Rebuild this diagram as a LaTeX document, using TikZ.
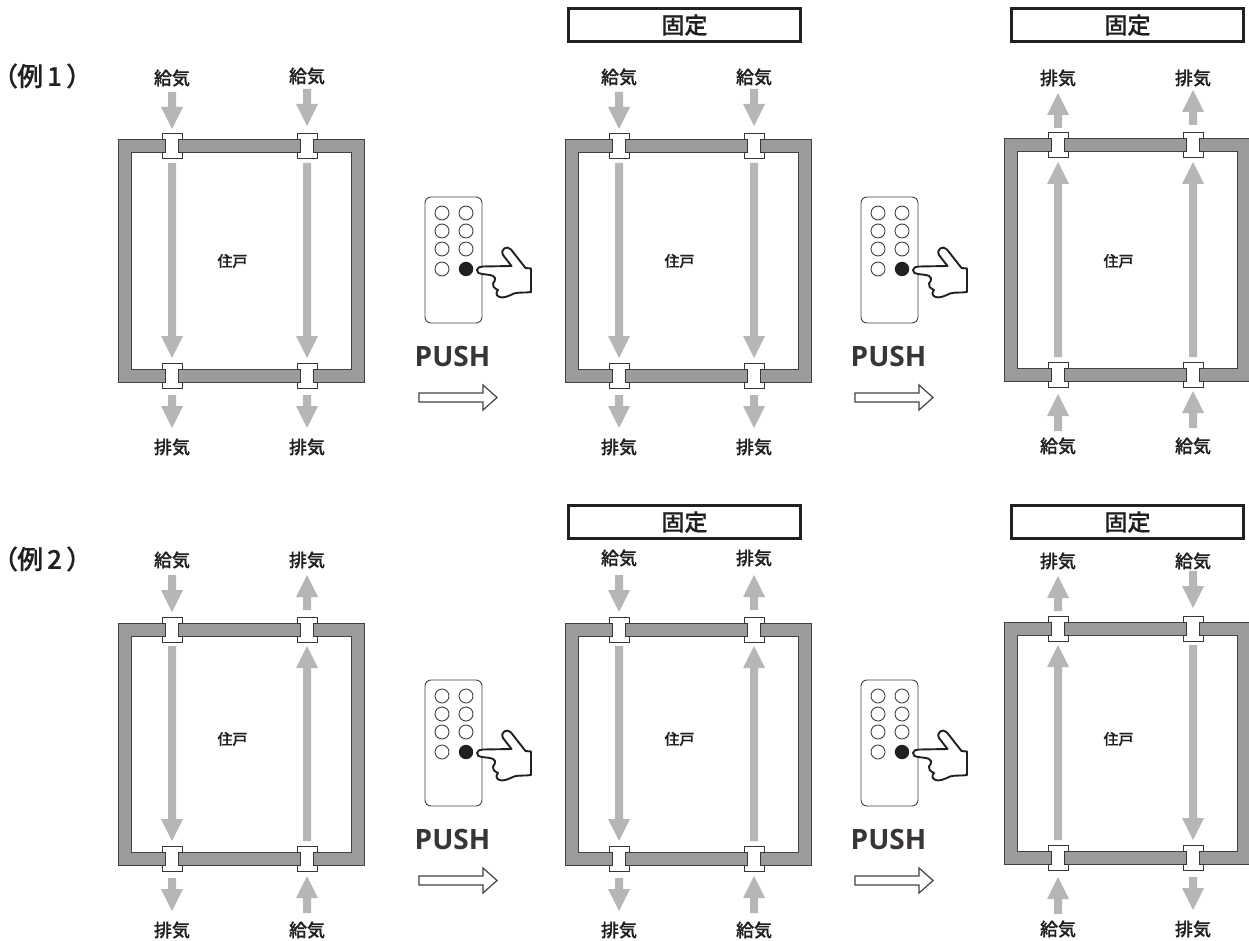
\documentclass[tikz,border=0pt]{standalone}
\usepackage{fontspec}
\setmainfont{Noto Sans CJK JP}[BoldFont={Noto Sans CJK JP Medium},BoldFeatures={FakeBold=0.6}]
\newfontfamily\rowfont{Noto Sans CJK JP Medium}[RawFeature=+palt,FakeBold=0.6]
\newfontfamily\pushfont{Open Sans}
\definecolor{band}{HTML}{9A9B9D}
\definecolor{flow}{HTML}{B5B6B8}
\definecolor{ink}{HTML}{231F20}
\tikzset{
  x=1pt,y=-1pt,
  bandline/.style={draw=ink!85,line width=1pt,fill=band},
  fitting/.style={draw=ink!90,line width=1pt,fill=white},
  flowshape/.style={fill=flow,draw=none},
  lbl/.style={font=\fontsize{18}{18}\selectfont\bfseries,text=ink,inner sep=0pt},
  roomlbl/.style={font=\fontsize{15}{15}\selectfont\bfseries,text=ink,inner sep=0pt},
  fixbox/.style={draw=ink,line width=3pt,fill=white,minimum width=232pt,minimum height=33pt,inner sep=0pt,font=\fontsize{23}{23}\selectfont\bfseries,text=ink},
  rowlbl/.style={font=\rowfont\fontsize{26}{26}\selectfont,text=ink,inner sep=0pt,anchor=west},
  pushlbl/.style={font=\pushfont\fontsize{28}{28}\selectfont\bfseries,text=ink!90,inner sep=0pt},
  remotebody/.style={draw=ink!85,line width=0.9pt,rounded corners=6pt,fill=white},
  btn/.style={draw=ink!85,line width=0.9pt,fill=white},
  pusharrow/.style={draw=ink!85,line width=1.2pt,fill=white},
}
% arrow along x=#1 from y=#2 (tail) to y=#3 (tip)
\newcommand{\flowarrow}[3]{%
  \pgfmathsetmacro{\sgn}{(#3>#2)?1:-1}%
  \fill[flowshape] (#1-4,#2) -- (#1+4,#2) -- (#1+4,#3-22*\sgn) -- (#1+11,#3-22*\sgn) -- (#1,#3) -- (#1-11,#3-22*\sgn) -- (#1-4,#3-22*\sgn) -- cycle;}
% fitting centred at x=#1, top of band y=#2
\newcommand{\fitshape}[2]{%
  \draw[fitting] (#1-10,#2-6) -- (#1+10,#2-6) -- (#1+10,#2) -- (#1+6.5,#2) -- (#1+6.5,#2+13) -- (#1+10,#2+13) -- (#1+10,#2+19) -- (#1-10,#2+19) -- (#1-10,#2+13) -- (#1-6.5,#2+13) -- (#1-6.5,#2) -- (#1-10,#2) -- cycle;}
% one column of air: x=#1, T=#2, dir=#3 (1 down, 0 up), extra=#4 (outer-arrow offset), name=#5, label y top=#6
\newcommand{\aircol}[6]{%
  \ifnum#3=1
    \flowarrow{#1}{#2-48-#4}{#2-11-#4}
    \flowarrow{#1}{#2+23}{#2+218}
    \flowarrow{#1}{#2+255}{#2+288}
    \node[lbl] (#5t) at (#1,#6) {給気};
    \node[lbl] (#5b) at (#1,#2+307) {排気};
  \else
    \flowarrow{#1}{#2-11-#4}{#2-46-#4}
    \flowarrow{#1}{#2+218}{#2+23}
    \flowarrow{#1}{#2+292-#4}{#2+255-#4}
    \node[lbl] (#5t) at (#1,#6) {排気};
    \node[lbl] (#5b) at (#1,#2+307) {給気};
  \fi}
% panel: dx=#1, T=#2, dirL=#3, dirR=#4, name=#5, room y=#6, labelL y=#7, labelR y=#8, right-outer offset=#9
\newcommand{\panel}[9]{%
  \begin{scope}[shift={(#1,0)}]
    \aircol{172}{#2}{#3}{0}{#5l}{#7}
    \aircol{307}{#2}{#4}{#9}{#5r}{#8}
    \draw[bandline,even odd rule] (118,#2) rectangle (364,#2+242) (131,#2+13) rectangle (351,#2+229);
    \foreach \fx in {172,307}{\fitshape{\fx}{#2}\fitshape{\fx}{#2+229}}
    \node[roomlbl] (#5room) at (232.5,#6) {住戸};
  \end{scope}}
\newcommand{\remote}[3]{%
  \begin{scope}[shift={(#1,#2)}]
    \draw[remotebody] (425,197) rectangle (482,323);
    \foreach \bx in {442,466}\foreach \by in {213,231,249}{\draw[btn] (\bx,\by) circle (7);}
    \draw[btn] (442,269) circle (7);
    \fill[ink] (466,269) circle (7.2);
    \draw[ink,line width=1.9pt,line join=round,fill=white]
      (477,270) .. controls (477,267.5) and (480,266.5) .. (483,266.5) -- (511.5,266) -- (503,255)
      .. controls (500,249) and (507,245) .. (511,249.5) -- (525.5,268) -- (531,268.5) -- (531,292)
      .. controls (525,293) and (519,292) .. (514,293.5) .. controls (509,296) and (503,298.5) .. (499.5,297)
      .. controls (495.5,295.5) and (496,292) .. (498,290) .. controls (494,288) and (492,286) .. (493,283.5)
      .. controls (494,281.5) and (496,280) .. (495,278) .. controls (494,276) and (492,275.5) .. (490,275)
      -- (482,274) .. controls (479,274) and (477,272.5) .. (477,270) -- cycle;
    \node[pushlbl] (#3push) at (452.5,356) {PUSH};
    \draw[pusharrow] (419,393) -- (483,393) -- (483,385) -- (497,397.5) -- (483,410) -- (483,402) -- (419,402) -- cycle;
  \end{scope}}
\begin{document}
\begin{tikzpicture}
\useasboundingbox (0,0) rectangle (1249,941);
\fill[white] (0,0) rectangle (1249,941);
\node[rowlbl] (rowa) at (4,76) {（例\kern4pt 1\kern5pt ）};
\node[rowlbl] (rowb) at (4,559) {（例\kern4pt 2\kern5pt ）};
\panel{0}{140}{1}{1}{aa}{261}{78}{76}{3}
\panel{447}{140}{1}{1}{ab}{261}{77}{77}{3}
\panel{886}{139}{0}{0}{ac}{261}{78}{78}{3}
\panel{0}{623}{1}{0}{ba}{739}{560}{560}{2}
\panel{447}{623}{1}{0}{bb}{739}{558}{558}{2}
\panel{886}{622}{0}{1}{bc}{739}{561}{561}{3}
\remote{0}{0}{ra}
\remote{436}{0}{rb}
\remote{0}{483}{rc}
\remote{436}{483}{rd}
\node[fixbox] (fa) at (684.5,25) {固定};
\node[fixbox] (fb) at (1127.5,25) {固定};
\node[fixbox] (fc) at (684.5,522) {固定};
\node[fixbox] (fd) at (1127.5,522) {固定};
\end{tikzpicture}
\end{document}
